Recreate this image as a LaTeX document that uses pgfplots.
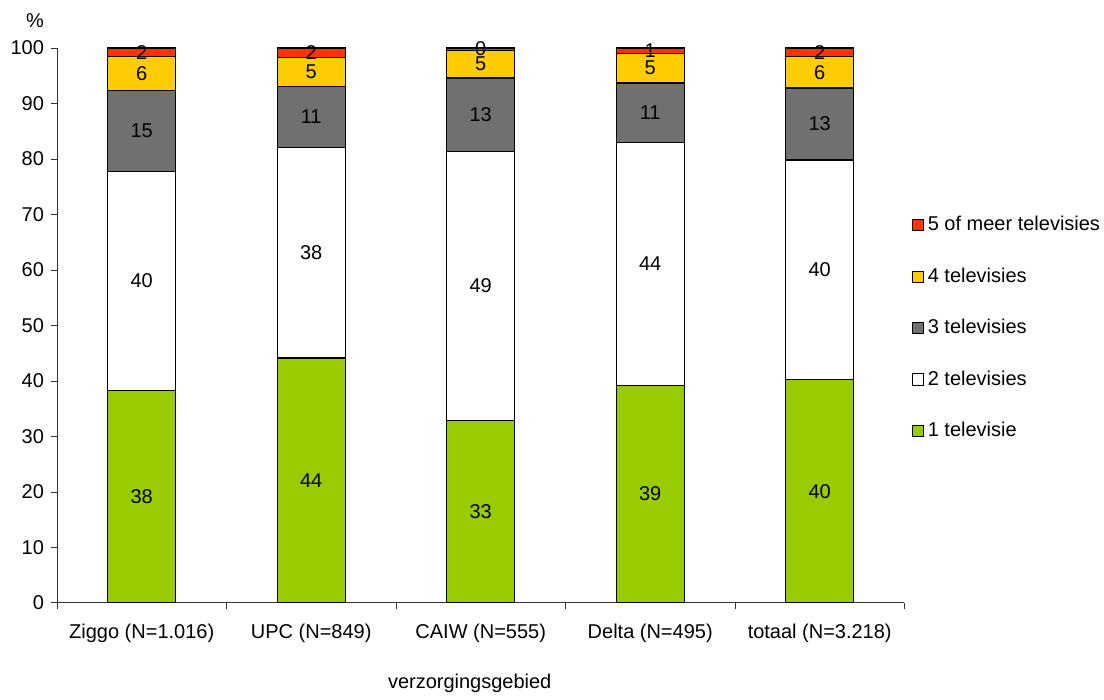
\documentclass[border=0pt]{standalone}
\usepackage{fontspec}
\setmainfont{Liberation Sans}
\usepackage{pgfplots}
\usepackage{pgfplotstable}
\pgfplotsset{compat=1.18}

\definecolor{vijf}{HTML}{FF3300}
\definecolor{vier}{HTML}{FFCC00}
\definecolor{drie}{HTML}{707070}
\definecolor{een}{HTML}{99CC00}

% aandeel huishoudens per aantal televisies
\pgfplotstableread{
x een twee drie vier vijf
0 38.2 39.6 14.6 6.0 1.6
1 44.1 38.0 11.0 5.2 1.7
2 32.8 48.6 13.2 5.0 0.4
3 39.2 43.8 10.7 5.3 1.0
4 40.2 39.6 13.0 5.6 1.6
}\tvdata

\pgfplotsset{
    centered labels/.style={
        nodes near coords={\pgfmathprintnumber[fixed,precision=0]{\pgfplotspointmeta}},
        every node near coord/.style={
            anchor=center,
            font=\fontsize{10}{12}\selectfont,
            text=black,
        },
    },
}

\begin{document}
\begin{tikzpicture}
\begin{axis}[
    name=ax,
    scale only axis,
    width=424pt,
    height=277.5pt,
    ybar stacked,
    bar width=0.4,
    xmin=-0.5, xmax=4.5,
    ymin=0, ymax=100,
    ytick={0,10,...,100},
    xtick={-0.5,0.5,...,4.5},
    x tick label as interval,
    xticklabels={Ziggo (N=1.016),UPC (N=849),CAIW (N=555),Delta (N=495),totaal (N=3.218)},
    axis lines*=left,
    axis line style={black!80},
    tick style={black!80},
    tick align=outside,
    major tick length=3pt,
    tick label style={font=\fontsize{10}{12}\selectfont},
    /pgf/number format/assume math mode=true,
    xticklabel style={yshift=-4pt},
    xlabel={verzorgingsgebied},
    every axis x label/.style={at={(axis description cs:0.487,0)}, anchor=center, yshift=-40.5pt, font=\fontsize{10}{12}\selectfont},
    reverse legend,
    legend style={draw=none, at={(1.008,0.495)}, anchor=west, row sep=13pt,
        font=\fontsize{10}{12}\selectfont, inner sep=0pt},
    legend cell align=left,
    legend image code/.code={\draw[#1,draw=black,line width=0.5pt] (0pt,-2.8pt) rectangle (5.6pt,2.8pt);},
    centered labels,
    clip=false,
]
\addplot[fill=een, draw=black, line width=0.6pt] table[x=x,y=een] {\tvdata};
\addlegendentry{1 televisie}
\addplot[fill=white, draw=black, line width=0.6pt] table[x=x,y=twee] {\tvdata};
\addlegendentry{2 televisies}
\addplot[fill=drie, draw=black, line width=0.6pt] table[x=x,y=drie] {\tvdata};
\addlegendentry{3 televisies}
\addplot[fill=vier, draw=black, line width=0.6pt] table[x=x,y=vier] {\tvdata};
\addlegendentry{4 televisies}
\addplot[fill=vijf, draw=black, line width=0.6pt] table[x=x,y=vijf] {\tvdata};
\addlegendentry{5 of meer televisies}
\node[font=\fontsize{10}{12}\selectfont] at (axis description cs:-0.026,1.05) {\%};
\end{axis}
\path (ax.south west) ++(-28.5pt,-44.5pt) rectangle ++(552pt,346pt);
\end{tikzpicture}
\end{document}
